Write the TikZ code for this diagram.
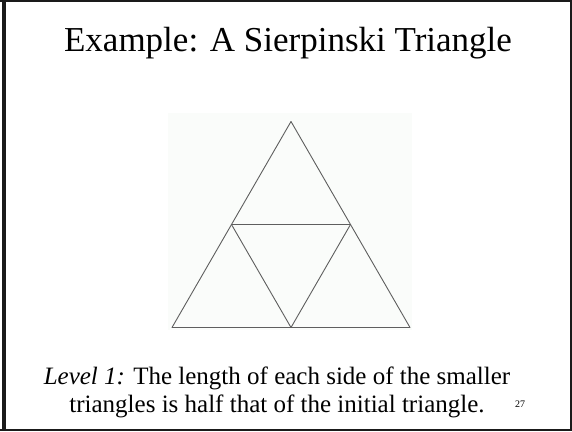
\documentclass[tikz,border=0pt]{standalone}
\usepackage{fontspec}
\setmainfont{Liberation Serif}
\usetikzlibrary{calc}
\definecolor{frame}{HTML}{1A1A1A}
\definecolor{edge}{HTML}{5E5E5E}
\definecolor{panel}{HTML}{FAFCFA}

\begin{document}
\begin{tikzpicture}[x=1pt,y=-1pt,edge/.style={draw=edge,line width=0.9pt,line join=round}]
  \useasboundingbox (0,0) rectangle (572,431);
  % slide frame
  \draw[frame,line width=2pt] (0,1) -- (571,1);
  \draw[frame,line width=3.5pt] (4,0) -- (4,431);
  \draw[frame,line width=2pt] (0,429.5) -- (572,429.5);
  \draw[frame,line width=1.2pt] (571,0) -- (571,431);
  % title
  \node[anchor=base,inner sep=0pt,font=\fontsize{35}{40}\selectfont] (title) at (288,51.7) {Example: A Sierpinski Triangle};
  % picture panel
  \fill[panel] (168,113) rectangle (412,330);
  % corners of the big triangle and the midpoints
  \coordinate (top) at (291,121.5);
  \coordinate (bl) at (172,327.5);
  \coordinate (br) at (410,327.5);
  \coordinate (ml) at ($(top)!0.5!(bl)$);
  \coordinate (mr) at ($(top)!0.5!(br)$);
  \coordinate (mb) at ($(bl)!0.5!(br)$);
  \draw[edge] (top) -- (bl) -- (br) -- cycle;
  \draw[edge] (ml) -- (mr) -- (mb) -- cycle;
  % caption (base is the last line)
  \node[anchor=base,inner sep=0pt,align=center,font=\fontsize{25}{28}\selectfont] (caption) at (277,412)
    {\textit{Level 1:} The length of each side of the smaller\\triangles is half that of the initial triangle.};
  \node[anchor=base west,inner sep=0pt,font=\fontsize{10}{12}\selectfont] (page) at (515,407) {27};
\end{tikzpicture}
\end{document}
